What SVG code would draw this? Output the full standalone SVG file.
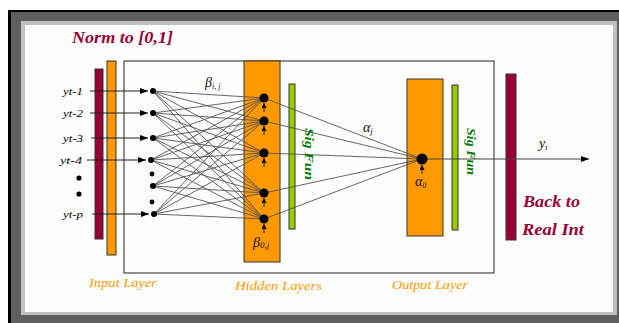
<svg xmlns="http://www.w3.org/2000/svg" width="619" height="323" viewBox="0 0 619 323">
<style>
.bar{stroke:#333;stroke-width:1}
.org{fill:#ff9900}
.red{fill:#990033}
.grn{fill:#99cc00}
.w{stroke:#555;stroke-width:0.9;fill:none}
.arr{stroke:#222;stroke-width:1;fill:none}
.nd{fill:#000}
text{font-family:'Liberation Serif','DejaVu Serif','Times New Roman',serif;font-style:italic}
.lbl{font-size:11px;fill:#000}
.big{font-weight:bold;font-size:16px;fill:#990033}
.sig{font-weight:bold;font-size:13px;fill:#007a00}
.lay{font-size:13px;fill:#ff9900}
.gr{font-size:14px;fill:#111}
</style>
<defs>
<marker id="ah" markerUnits="userSpaceOnUse" markerWidth="8" markerHeight="6" refX="8" refY="3" orient="auto"><path d="M0,0 L8,3 L0,6 z" fill="#000"/></marker>
<marker id="ahs" markerUnits="userSpaceOnUse" markerWidth="5" markerHeight="5" refX="5" refY="2.5" orient="auto"><path d="M0,0 L5,2.5 L0,5 z" fill="#000"/></marker>
</defs>
<rect x="8" y="10" width="611" height="313" fill="#000"/>
<rect x="11" y="12" width="608" height="311" fill="#5f5f5f"/>
<rect x="21" y="21" width="596" height="294" fill="#c0c0c0"/>
<rect x="25" y="25" width="588" height="287" fill="#fdfdfd"/>
<text class="big" x="72" y="43" textLength="101" lengthAdjust="spacingAndGlyphs">Norm to [0,1]</text>
<rect x="124" y="61" width="370" height="212" fill="none" stroke="#222" stroke-width="1"/>
<g id="bars">
<rect class="bar red" x="95" y="69" width="8" height="170"/>
<rect class="bar org" x="107" y="61" width="9" height="194"/>
<rect class="bar org" x="244" y="61" width="36" height="201"/>
<rect class="bar grn" x="289" y="84" width="6" height="145"/>
<rect class="bar org" x="407" y="79" width="36" height="157"/>
<rect class="bar grn" x="452" y="85" width="6" height="145"/>
<rect class="bar red" x="506" y="74" width="10" height="166"/>
</g>
<g id="connectors">
<g class="w">
<path d="M153,91 L264,98 M153,91 L264,121 M153,91 L264,153 M153,91 L264,193 M153,91 L264,219"/>
<path d="M153,113 L264,98 M153,113 L264,121 M153,113 L264,153 M153,113 L264,193 M153,113 L264,219"/>
<path d="M153,138 L264,98 M153,138 L264,121 M153,138 L264,153 M153,138 L264,193 M153,138 L264,219"/>
<path d="M151,160 L264,98 M151,160 L264,121 M151,160 L264,153 M151,160 L264,193 M151,160 L264,219"/>
<path d="M153,186 L264,98 M153,186 L264,121 M153,186 L264,153 M153,186 L264,193 M153,186 L264,219"/>
<path d="M154,214 L264,98 M154,214 L264,121 M154,214 L264,153 M154,214 L264,193 M154,214 L264,219"/>
<path d="M264,98 L422,159 M264,121 L422,159 M264,153 L422,159 M264,193 L422,159 M264,219 L422,159"/>
</g>
<line class="arr" x1="90" y1="91" x2="148" y2="91" marker-end="url(#ah)"/>
<line class="arr" x1="90" y1="113" x2="148" y2="113" marker-end="url(#ah)"/>
<line class="arr" x1="91" y1="138" x2="148" y2="138" marker-end="url(#ah)"/>
<line class="arr" x1="87" y1="160" x2="146" y2="160" marker-end="url(#ah)"/>
<line class="arr" x1="92" y1="214" x2="149" y2="214" marker-end="url(#ah)"/>
<line class="arr" x1="264" y1="112" x2="264" y2="103" marker-end="url(#ahs)"/>
<line class="arr" x1="264" y1="135" x2="264" y2="126" marker-end="url(#ahs)"/>
<line class="arr" x1="264" y1="167" x2="264" y2="158" marker-end="url(#ahs)"/>
<line class="arr" x1="264" y1="207" x2="264" y2="198" marker-end="url(#ahs)"/>
<line class="arr" x1="264" y1="233" x2="264" y2="224" marker-end="url(#ahs)"/>
<line class="arr" x1="422" y1="174" x2="422" y2="165" marker-end="url(#ahs)"/>
<line x1="422" y1="159" x2="589" y2="159" stroke="#444" stroke-width="1" marker-end="url(#ah)"/>
</g>
<g id="inputs">
<g id="in1"><text class="lbl" x="63" y="95" textLength="20" lengthAdjust="spacingAndGlyphs">yt-1</text><circle class="nd" cx="153" cy="91" r="3"/></g>
<g id="in2"><text class="lbl" x="63" y="117" textLength="20" lengthAdjust="spacingAndGlyphs">yt-2</text><circle class="nd" cx="153" cy="113" r="3"/></g>
<g id="in3"><text class="lbl" x="63" y="142" textLength="20" lengthAdjust="spacingAndGlyphs">yt-3</text><circle class="nd" cx="153" cy="138" r="3"/></g>
<g id="in4"><text class="lbl" x="60" y="164" textLength="22" lengthAdjust="spacingAndGlyphs">yt-4</text><circle class="nd" cx="151" cy="160" r="3"/></g>
<g id="in5"><circle class="nd" cx="153" cy="186" r="3"/></g>
<g id="in6"><text class="lbl" x="63" y="218" textLength="20" lengthAdjust="spacingAndGlyphs">yt-p</text><circle class="nd" cx="154" cy="214" r="3"/></g>
<g id="dots"><circle class="nd" cx="79" cy="178" r="2.6"/><circle class="nd" cx="79" cy="194" r="2.6"/><circle class="nd" cx="152" cy="174" r="2.4"/><circle class="nd" cx="152" cy="202" r="2.4"/></g>
</g>
<g id="hidden">
<circle class="nd" cx="264" cy="98" r="4.5"/>
<circle class="nd" cx="264" cy="121" r="4.5"/>
<circle class="nd" cx="264" cy="153" r="4.5"/>
<circle class="nd" cx="264" cy="193" r="4.5"/>
<circle class="nd" cx="264" cy="219" r="4.5"/>
</g>
<g id="output"><circle class="nd" cx="422" cy="159" r="5.5"/></g>
<text class="gr" x="205" y="87">β<tspan font-size="8" dy="2">i, j</tspan></text>
<text class="gr" x="253" y="247">β<tspan font-size="9" dy="1">0,j</tspan></text>
<text class="gr" x="363" y="132">α<tspan font-size="9" dy="2">j</tspan></text>
<text class="gr" x="415" y="186">α<tspan font-size="8" dy="2">0</tspan></text>
<text class="gr" x="539" y="148">y<tspan font-size="8" dy="2">t</tspan></text>
<text class="sig" transform="translate(305,128) rotate(90)" textLength="52" lengthAdjust="spacingAndGlyphs">Sig Fun</text>
<text class="sig" transform="translate(467,128) rotate(90)" textLength="47" lengthAdjust="spacingAndGlyphs">Sig Fun</text>
<text class="big" x="523" y="207" textLength="57" lengthAdjust="spacingAndGlyphs">Back to</text>
<text class="big" x="522" y="235" textLength="62" lengthAdjust="spacingAndGlyphs">Real Int</text>
<text class="lay" x="89" y="287" textLength="68" lengthAdjust="spacingAndGlyphs">Input Layer</text>
<text class="lay" x="235" y="290" textLength="87" lengthAdjust="spacingAndGlyphs">Hidden Layers</text>
<text class="lay" x="392" y="289" textLength="76" lengthAdjust="spacingAndGlyphs">Output Layer</text>
</svg>
